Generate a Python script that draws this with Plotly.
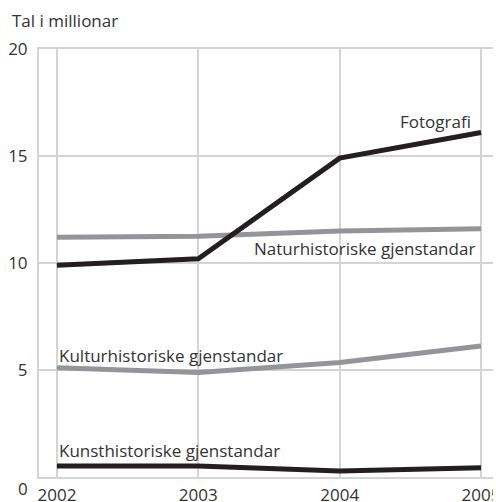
import plotly.graph_objects as go

years = [2002, 2003, 2004, 2005]
fotografi = [9.9, 10.2, 14.9, 16.1]
natur = [11.2, 11.25, 11.5, 11.6]
kultur = [5.1, 4.88, 5.35, 6.12]
kunst = [0.51, 0.51, 0.28, 0.43]

series_names = ["Fotografi", "Naturhistoriske gjenstandar",
                "Kulturhistoriske gjenstandar", "Kunsthistoriske gjenstandar"]
y_ticks = [0, 5, 10, 15, 20]
y_ticktext = ["", "5", "10", "15", "20"]

BLACK = "#231f20"
GRAY = "#939598"
GRID = "#d4d4d4"
TEXT = "#333333"
FONT = "Open Sans"

fig = go.Figure()
for vals, color in [(natur, GRAY), (kultur, GRAY), (fotografi, BLACK), (kunst, BLACK)]:
    fig.add_trace(go.Scatter(x=years, y=vals, mode="lines",
                             line=dict(color=color, width=5),
                             hoverinfo="skip", showlegend=False))

ann = [
    dict(x=2004.94, y=fotografi[3] - 0.11, text=series_names[0], xanchor="right", yanchor="bottom"),
    dict(x=2004.97, y=natur[3] - 0.31, text=series_names[1], xanchor="right", yanchor="top"),
    dict(x=2002.0, y=kultur[0] - 0.06, text=series_names[2], xanchor="left", yanchor="bottom"),
    dict(x=2002.0, y=kunst[0] + 0.08, text=series_names[3], xanchor="left", yanchor="bottom"),
]
annotations = []
for a in ann:
    a.update(xref="x", yref="y", showarrow=False,
             font=dict(family=FONT, size=17, color=TEXT))
    annotations.append(a)
annotations.append(dict(xref="paper", yref="paper", x=-0.064, y=1.036, xanchor="left",
                        yanchor="bottom", text="Tal i millionar", showarrow=False,
                        font=dict(family=FONT, size=17, color=TEXT)))
# the "0" label of the value axis sits slightly below its gridline in the original
annotations.append(dict(xref="paper", yref="paper", x=-0.02, y=-0.028, xanchor="right",
                        yanchor="middle", text="0", showarrow=False,
                        font=dict(family=FONT, size=17, color=TEXT)))

fig.update_layout(
    width=493, height=494,
    margin=dict(l=31, r=3, t=41, b=25),
    paper_bgcolor="white", plot_bgcolor="white",
    font=dict(family=FONT, size=17, color=TEXT),
    annotations=annotations,
    xaxis=dict(range=[2001.873, 2005.12], tickvals=years, ticktext=[str(y) for y in years],
               showgrid=True, gridcolor=GRID, gridwidth=2, zeroline=False,
               showline=True, linecolor=GRID, linewidth=2, mirror=True, automargin=False,
               ticks="", ticklabelstandoff=2, tickfont=dict(size=17, color=TEXT)),
    yaxis=dict(range=[0, 20], tickvals=y_ticks, ticktext=y_ticktext,
               showgrid=True, gridcolor=GRID, gridwidth=2,
               zeroline=False, showline=True, linecolor=GRID, linewidth=2, mirror=True,
               automargin=False, ticks="", ticklabelstandoff=6,
               tickfont=dict(size=17, color=TEXT)),
)

fig.write_html("out.html")
